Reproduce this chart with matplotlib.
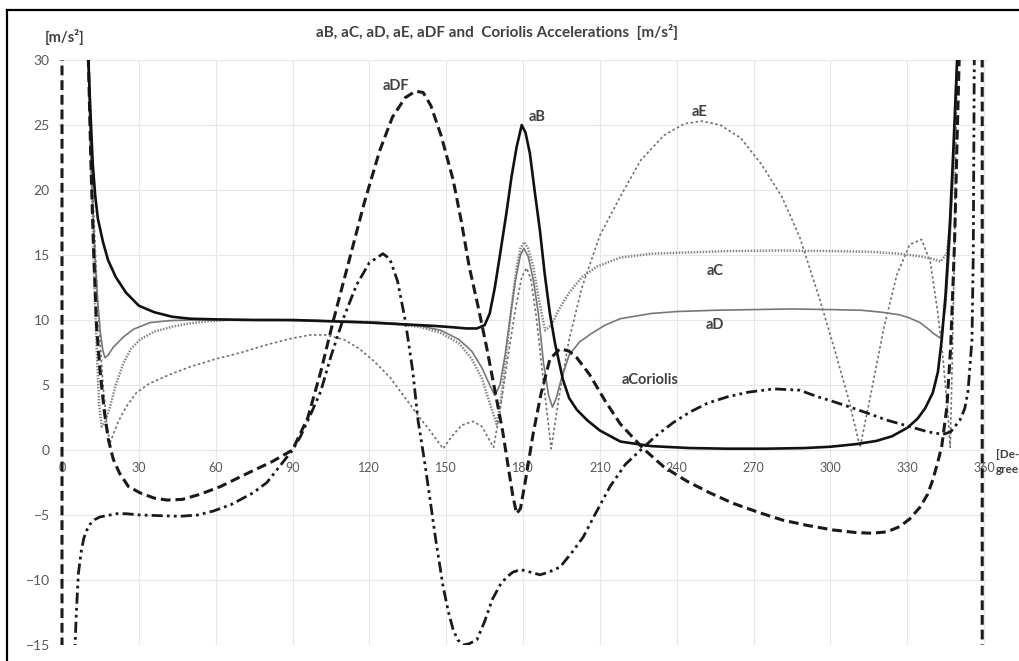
import matplotlib
matplotlib.use('Agg')
from matplotlib import pyplot as plt
from matplotlib.lines import Line2D

plt.rcParams['font.family'] = ['Lato', 'DejaVu Sans']

# crank angle [deg] and accelerations [m/s2] (40 / -40 = off the scale)
aB_x = [9, 10.3, 11, 12, 13, 14, 16, 18, 21, 25, 30, 36, 43, 50, 60, 75, 90, 105, 120, 135, 145, 152, 158,
        162, 165, 167, 169, 171, 173.5, 175.5, 177.5, 179.5, 181, 182.7, 184.5, 186.6, 188.5, 190.5, 192.5,
        195.6, 198, 201, 205, 210, 218, 230, 245, 260, 275, 290, 300, 310, 318, 324, 330, 334, 337, 340,
        342, 343.5, 345, 346.7, 348, 349.5, 350.5]
aB_y = [40, 30, 26.5, 22, 19.5, 17.8, 16, 14.6, 13.3, 12.1, 11.1, 10.6, 10.25, 10.1, 10.05, 10.0, 10.0, 9.9,
        9.8, 9.65, 9.55, 9.45, 9.35, 9.35, 9.6, 10.5, 12.5, 15, 18.2, 21, 23.3, 25, 24.4, 22.8, 20, 16.9, 13.5,
        10.5, 8.2, 5.4, 4.0, 3.1, 2.3, 1.5, 0.65, 0.3, 0.15, 0.1, 0.1, 0.15, 0.25, 0.45, 0.7, 1.05, 1.7, 2.4,
        3.2, 4.4, 6, 8.5, 12, 17.5, 23, 30, 40]

aC_x = [10.3, 11.5, 12.5, 13.5, 14.5, 15.5, 16.5, 18.7, 21, 24, 27, 30.5, 36, 43.4, 50, 56.6, 65, 80, 100,
        120, 130, 140, 148, 155, 160, 164, 167, 169.7, 171.5, 173.5, 175.5, 177.5, 179, 180.5, 182, 184, 186,
        188.6, 191, 194, 198, 203, 208.8, 218, 230, 245, 260, 280, 300, 315, 327, 335, 340, 343, 345.5,
        346.5, 348, 349.5, 350.5]
aC_y = [30, 22, 14, 8, 3.5, 1.8, 2.0, 3.3, 5.0, 6.7, 7.8, 8.5, 9.1, 9.5, 9.75, 9.9, 10.0, 10.0, 9.95, 9.85,
        9.7, 9.45, 9.0, 8.2, 7.0, 5.5, 3.6, 2.0, 4.0, 7.5, 11, 14, 15.5, 16.0, 15.5, 14.1, 11.8, 9.2, 9.6,
        10.8, 12.1, 13.3, 14.1, 14.8, 15.1, 15.2, 15.3, 15.35, 15.3, 15.25, 15.1, 14.9, 14.7, 14.5, 15.1,
        17, 21, 30, 40]

aD_x = [10.3, 11, 12, 13, 14, 15, 16, 16.8, 18, 20, 24, 28, 34.4, 42, 50, 60, 80, 100, 120, 130, 140, 148,
        155, 160, 164, 167, 169, 171, 173, 175, 177, 179, 180.3, 182, 184, 186, 188, 190, 191.5, 193, 195,
        198, 202, 207, 212, 218, 230, 240, 255, 270, 285, 300, 312, 320, 327, 331, 335, 338, 340, 343, 345,
        346.7, 348, 349.5, 350.5]
aD_y = [30, 23.5, 18.7, 14.5, 11.3, 9.0, 7.6, 7.1, 7.3, 7.9, 8.7, 9.3, 9.8, 9.95, 10.0, 10.0, 10.0, 9.95,
        9.85, 9.75, 9.55, 9.2, 8.5, 7.6, 6.3, 5.0, 4.2, 5.0, 7.3, 10.2, 13, 15, 15.5, 14.9, 13.1, 10.5, 6.7,
        4.2, 3.3, 4.0, 5.5, 7.3, 8.3, 9.0, 9.6, 10.1, 10.5, 10.65, 10.75, 10.8, 10.85, 10.8, 10.75, 10.6,
        10.4, 10.15, 9.8, 9.35, 9.0, 8.6, 11, 16, 22, 30, 40]

aE_x = [10.3, 12, 14, 16, 17.5, 18.7, 20, 22, 25, 29, 34, 42, 50, 60, 70, 80, 90, 97, 103, 110, 116, 122,
        128, 134, 140, 144, 148.8, 152, 156, 160.5, 164, 166.5, 168.5, 171, 174, 177, 179.5, 181.4, 183, 185,
        187, 189, 191, 194, 198, 203, 210, 218, 226, 235, 243, 250, 257, 265, 273, 281, 288, 296, 302, 307,
        311.6, 316, 321, 326, 331, 335.6, 339, 342, 344, 346, 346.8, 347.5, 348.5, 349.5, 350.5]
aE_y = [30, 20, 11, 5, 2, 0.5, 1.2, 2.2, 3.3, 4.4, 5.1, 5.8, 6.4, 7.0, 7.5, 8.1, 8.6, 8.85, 8.85, 8.5, 7.8,
        6.8, 5.6, 4.0, 2.4, 1.4, 0.1, 1.0, 1.9, 2.2, 1.8, 0.9, 0.2, 3, 7, 10.8, 13.3, 14, 13.2, 10.5, 7, 3.5,
        0.1, 4, 8.5, 12.5, 16.5, 19.5, 22.3, 24.2, 25.1, 25.3, 25.0, 24, 22, 19.5, 16.4, 11.5, 7.5, 4, 0.2,
        4.5, 9.5, 13.5, 15.8, 16.2, 14.5, 10.5, 7, 2.5, 0.2, 6, 16, 30, 40]

aDF_x = [0, 0, 10, 10.3, 11.3, 12.3, 13.5, 14.8, 16.5, 18.1, 20, 22.5, 25.9, 30.5, 36, 41, 47, 54, 62, 73.4,
         82, 90, 96, 101, 106, 112, 118, 124, 129, 134, 138, 141, 144, 148, 152.7, 156, 159, 162.5, 165.8,
         169, 172, 174, 176, 177.5, 179, 181, 184, 187, 190.5, 194.5, 198, 201, 206, 212, 218, 227, 235, 244,
         253, 262, 272, 281.5, 291, 301, 310, 316, 322, 327, 331, 335, 338, 340, 342, 343.5, 345.5, 347,
         348.5, 349.5, 350.3, 351, 359.3, 359.3]
aDF_y = [-40, 40, 40, 30, 22, 15.5, 9.5, 6.2, 3.0, 0.8, -0.7, -1.8, -2.8, -3.3, -3.7, -3.85, -3.8, -3.4, -2.8,
         -1.7, -0.9, 0, 2.5, 6.0, 10, 14.5, 19, 23, 25.6, 27.1, 27.6, 27.5, 26.5, 24.2, 20.8, 17.5, 14.1, 11,
         7.9, 4.6, 1.5, -1, -3.5, -4.9, -4.5, -2.3, 1.3, 4.3, 7.0, 7.8, 7.6, 7.1, 5.8, 3.8, 2.0, 0.1, -1.3,
         -2.4, -3.3, -4.1, -4.8, -5.4, -5.8, -6.15, -6.35, -6.4, -6.3, -5.9, -5.3, -4.4, -3.4, -2.3, -0.9, 0.3,
         3.3, 8, 16, 24, 30, 40, 40, -40]

aCor_x = [4.9, 5.1, 5.6, 6.4, 7.5, 8.5, 9.6, 11, 12.8, 14.8, 18.7, 21.3, 25, 30.5, 38, 46, 53, 59, 66, 74.6,
          80, 86, 90, 93, 97, 101, 105, 110, 115, 120, 125.3, 128, 131, 134, 137, 139, 141.5, 143.7, 146,
          148.8, 150.8, 152.7, 154.5, 156.6, 159, 162, 165, 168, 171, 173.5, 176, 179, 183, 186.6, 190, 194.5,
          199, 203.5, 208, 214, 220, 227, 232, 238.6, 245, 252, 260, 268, 278, 288, 295, 300, 307.7, 315, 322,
          331, 338, 344, 347, 350.6, 352.5, 353.8, 355.3, 355.8, 356.2, 356.6]
aCor_y = [-40, -15, -12.5, -9.5, -7.8, -6.8, -6.2, -5.7, -5.35, -5.15, -5.0, -4.9, -4.9, -5.0, -5.05, -5.1,
          -5.0, -4.7, -4.2, -3.3, -2.5, -1.0, 0, 1.0, 2.7, 4.5, 7.2, 10.2, 12.7, 14.4, 15.1, 14.7, 13, 10, 6,
          2.3, -0.8, -3.8, -7, -10.5, -12.4, -13.8, -14.6, -15, -14.9, -14.6, -13.2, -11.5, -10.4, -9.8, -9.4,
          -9.2, -9.4, -9.6, -9.4, -9, -7.9, -6.7, -5, -2.8, -1.1, 0.2, 1.1, 2.1, 2.9, 3.6, 4.1, 4.45, 4.7, 4.6,
          4.1, 3.8, 3.3, 2.8, 2.3, 1.8, 1.4, 1.2, 1.4, 2.3, 3.2, 4.6, 8.5, 15, 30, 40]

x_ticks = [0, 30, 60, 90, 120, 150, 180, 210, 240, 270, 300, 330, 360]
y_ticks = [-15, -10, -5, 0, 5, 10, 15, 20, 25, 30]

W, H = 1020, 661
fig = plt.figure(figsize=(W / 100, H / 100), dpi=100)
ppd = 922 / 360
x0 = 62 - 1.5 * ppd
ax = fig.add_axes([x0 / W, (H - 645) / H, (929.7) / W, 585 / H])
ax.set_xlim(-1.5, 361.5)
ax.set_ylim(-15, 30)

ax.plot(aE_x, aE_y, color='#707070', lw=1.2, ls=(0, (1.5, 1.5)))
ax.plot(aC_x, aC_y, color='#858585', lw=1.8, ls=(0, (0.6, 0.6)))
ax.plot(aD_x, aD_y, color='#777777', lw=1.2)
ax.plot(aCor_x, aCor_y, color='#1a1a1a', lw=2.0, ls=(0, (4, 1.5, 1, 1.5, 1, 1.5)))
ax.plot(aDF_x, aDF_y, color='#1a1a1a', lw=2.2, ls=(0, (3.2, 1.6)))
ax.plot(aB_x, aB_y, color='#111111', lw=1.9)

ax.set_xticks(x_ticks)
ax.set_yticks(y_ticks)
ax.grid(color='#e6e6e6', lw=0.8)
ax.set_axisbelow(True)
for s in ax.spines.values():
    s.set_visible(False)
ax.spines['bottom'].set_position(('data', 0))
ax.tick_params(axis='x', length=0, pad=9, labelsize=9, labelcolor='#595959')
ax.tick_params(axis='y', length=0, pad=6, labelsize=10, labelcolor='#595959')

lab = dict(fontsize=10.5, fontweight='bold', color='#404040', ha='center', va='center')
ax.text(130.5, 28.0, 'aDF', **lab)
ax.text(185.5, 25.6, 'aB', **lab)
ax.text(249, 26, 'aE', **lab)
ax.text(255, 13.8, 'aC', **lab)
ax.text(255, 9.6, 'aD', **lab)
ax.text(229.6, 5.4, 'aCoriolis', **lab)

fig.text(497 / W, 1 - 32 / H, 'aB, aC, aD, aE, aDF and  Coriolis Accelerations  [m/s²]',
         ha='center', va='center', fontsize=11, fontweight='bold', color='#404040')
fig.text(65 / W, 1 - 37 / H, '[m/s²]', ha='center', va='center', fontsize=10.5, fontweight='bold', color='#404040')
fig.text(996 / W, 1 - 462 / H, '[De-\ngree', ha='left', va='center', fontsize=8.5, fontweight='bold',
         color='#404040', linespacing=1.4)

# outer frame (only top and left edges are inside the picture)
fig.add_artist(Line2D([7 / W, 7 / W], [0, 1 - 10 / H], color='black', lw=1.6))
fig.add_artist(Line2D([7 / W, 1], [1 - 10 / H, 1 - 10 / H], color='black', lw=1.6))

fig.savefig('out.png', dpi=100)
